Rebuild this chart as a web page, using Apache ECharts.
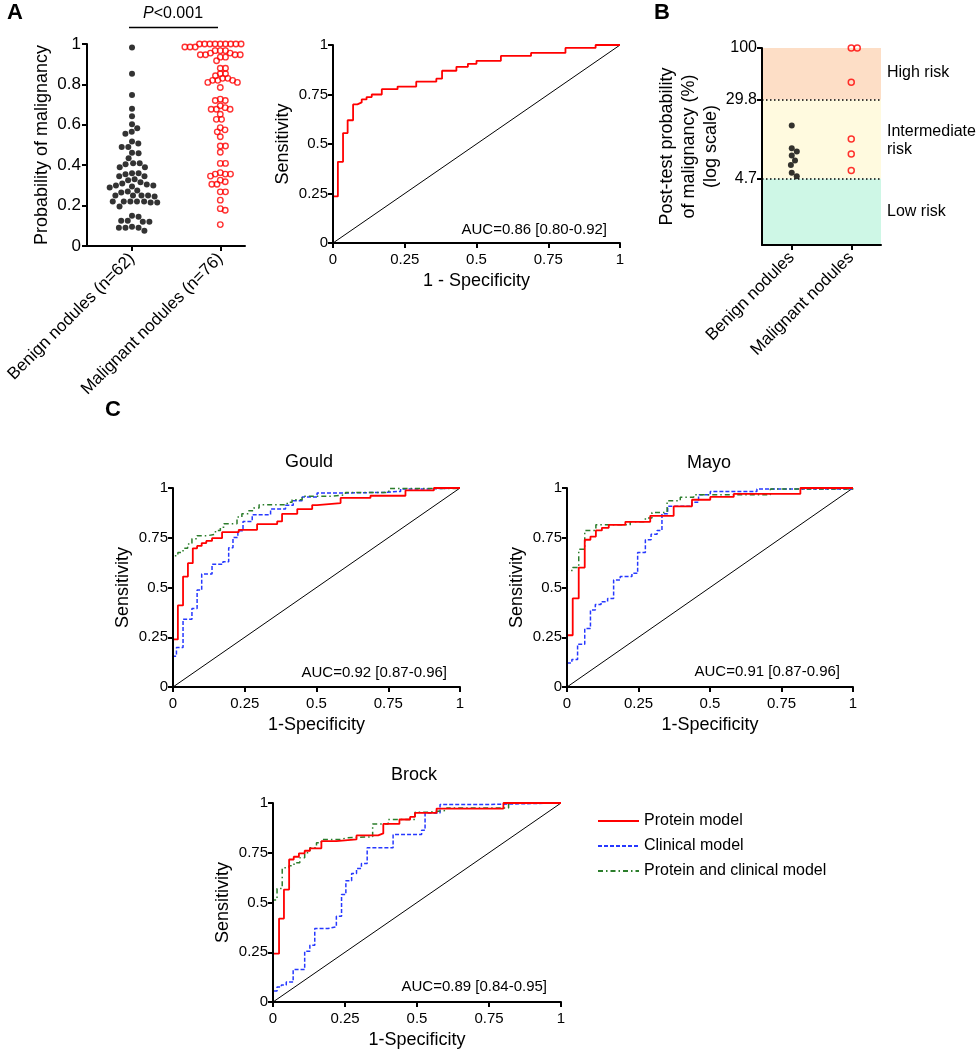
<!DOCTYPE html>
<html><head><meta charset="utf-8">
<script src="https://cdn.jsdelivr.net/npm/echarts@6/dist/echarts.min.js"></script>
<style>html,body{margin:0;padding:0;background:#fff}#c{width:978px;height:1050px}</style>
</head><body><div id="c"></div><script>
// ---------------- DATA ----------------
// Panel A: probability of malignancy (protein model)
const benignProb = [0.983,0.853,0.748,0.679,0.642,0.603,0.583,0.565,0.556,0.517,0.507,0.49,0.49,0.462,0.459,0.434,0.41,0.41,0.405,0.39,0.39,0.36,0.36,0.355,0.345,0.345,0.33,0.325,0.315,0.31,0.305,0.30,0.30,0.295,0.29,0.275,0.27,0.265,0.25,0.25,0.25,0.25,0.245,0.22,0.22,0.22,0.22,0.22,0.215,0.215,0.195,0.15,0.145,0.125,0.125,0.12,0.12,0.095,0.09,0.09,0.09,0.075];
const malignantProb = [1,1,1,1,1,1,1,1,1,1,0.985,0.985,0.985,0.985,0.985,0.967,0.967,0.967,0.955,0.955,0.947,0.947,0.947,0.947,0.935,0.935,0.917,0.88,0.88,0.853,0.853,0.843,0.83,0.83,0.82,0.82,0.82,0.81,0.81,0.785,0.727,0.72,0.72,0.694,0.685,0.677,0.677,0.677,0.652,0.627,0.627,0.586,0.575,0.565,0.541,0.495,0.495,0.464,0.409,0.409,0.363,0.356,0.356,0.356,0.346,0.326,0.318,0.306,0.306,0.268,0.268,0.227,0.185,0.177,0.106];
const groupNamesA = ['Benign nodules (n=62)', 'Malignant nodules (n=76)'];
const pValueText = '<0.001';

// Panel A ROC (protein model) : [1-specificity, sensitivity] step corners
const rocA_protein = [[0,0],[0,0.235],[0.017,0.41],[0.035,0.555],[0.051,0.62],[0.07,0.70],[0.085,0.71],[0.10,0.725],[0.117,0.737],[0.135,0.75],[0.17,0.777],[0.225,0.79],[0.29,0.815],[0.36,0.83],[0.38,0.87],[0.43,0.89],[0.47,0.905],[0.5,0.92],[0.585,0.945],[0.69,0.96],[0.81,0.985],[0.915,1],[1,1]];
const aucA = 'AUC=0.86 [0.80-0.92]';

// Panel B: post-test probability (%)
const postTestBenign = [16.3, 9.6, 8.9, 8.1, 7.2, 6.5, 5.4, 5.0];
const postTestMalignant = [100, 100, 44.9, 11.9, 8.4, 5.7];
const riskCutoffs = [4.7, 29.8];
const postTestTicks = [4.7, 29.8, 100];
const groupNamesB = ['Benign nodules', 'Malignant nodules'];

// Panel C ROC curves
const gould_protein = [[0,0],[0,0.239],[0.017,0.41],[0.035,0.555],[0.052,0.622],[0.069,0.697],[0.084,0.709],[0.10,0.723],[0.116,0.734],[0.136,0.748],[0.171,0.778],[0.229,0.79],[0.293,0.818],[0.363,0.832],[0.38,0.87],[0.433,0.894],[0.485,0.914],[0.502,0.924],[0.584,0.95],[0.688,0.961],[0.81,0.988],[0.909,1],[1,1]];
const gould_clinical = [[0,0],[0,0.155],[0.012,0.198],[0.035,0.341],[0.066,0.395],[0.084,0.487],[0.10,0.568],[0.136,0.617],[0.174,0.63],[0.194,0.70],[0.209,0.751],[0.226,0.785],[0.244,0.832],[0.276,0.866],[0.34,0.894],[0.392,0.913],[0.419,0.936],[0.45,0.955],[0.502,0.975],[0.607,0.978],[0.735,0.983],[0.793,0.995],[0.87,1],[1,1]];
const gould_combined = [[0,0],[0,0.659],[0.017,0.676],[0.035,0.697],[0.051,0.719],[0.066,0.745],[0.084,0.76],[0.119,0.768],[0.148,0.787],[0.165,0.803],[0.177,0.82],[0.223,0.854],[0.24,0.87],[0.264,0.886],[0.281,0.899],[0.30,0.916],[0.398,0.928],[0.415,0.941],[0.45,0.958],[0.549,0.966],[0.601,0.978],[0.752,0.997],[1,1]];
const mayo_protein = [[0,0],[0,0.26],[0.02,0.445],[0.041,0.60],[0.062,0.74],[0.082,0.756],[0.101,0.787],[0.122,0.80],[0.146,0.815],[0.204,0.83],[0.291,0.86],[0.373,0.908],[0.437,0.941],[0.501,0.955],[0.583,0.97],[0.816,1],[1,1]];
const mayo_clinical = [[0,0],[0,0.121],[0.017,0.138],[0.037,0.215],[0.062,0.294],[0.082,0.387],[0.099,0.415],[0.119,0.429],[0.142,0.445],[0.163,0.538],[0.186,0.555],[0.227,0.571],[0.247,0.676],[0.274,0.74],[0.294,0.768],[0.315,0.787],[0.332,0.87],[0.352,0.908],[0.437,0.928],[0.46,0.966],[0.501,0.983],[0.664,0.995],[1,1]];
const mayo_combined = [[0,0],[0,0.585],[0.02,0.60],[0.041,0.692],[0.062,0.787],[0.101,0.815],[0.221,0.83],[0.274,0.849],[0.297,0.877],[0.35,0.936],[0.396,0.953],[0.443,0.966],[0.711,0.995],[1,1]];
const brock_protein = [[0,0],[0,0.243],[0.021,0.419],[0.038,0.565],[0.056,0.716],[0.072,0.73],[0.09,0.747],[0.11,0.76],[0.128,0.772],[0.168,0.808],[0.22,0.817],[0.29,0.837],[0.365,0.847],[0.383,0.895],[0.439,0.917],[0.476,0.93],[0.493,0.95],[0.568,0.972],[0.80,1],[1,1]];
const brock_clinical = [[0,0],[0,0.055],[0.014,0.075],[0.029,0.086],[0.046,0.10],[0.07,0.163],[0.11,0.255],[0.128,0.285],[0.145,0.369],[0.191,0.378],[0.22,0.431],[0.238,0.54],[0.253,0.609],[0.273,0.646],[0.29,0.671],[0.307,0.696],[0.327,0.775],[0.417,0.842],[0.516,0.863],[0.528,0.95],[0.58,0.992],[0.725,1],[1,1]];
const brock_combined = [[0,0],[0,0.512],[0.014,0.57],[0.032,0.674],[0.056,0.685],[0.073,0.70],[0.093,0.725],[0.11,0.75],[0.128,0.775],[0.151,0.80],[0.168,0.817],[0.238,0.825],[0.255,0.83],[0.346,0.895],[0.40,0.917],[0.493,0.953],[0.534,0.963],[0.603,0.975],[0.818,1],[1,1]];
const aucC = ['AUC=0.92 [0.87-0.96]', 'AUC=0.91 [0.87-0.96]', 'AUC=0.89 [0.84-0.95]'];
const panelTitles = ['Gould', 'Mayo', 'Brock'];
const modelNames = ['Protein model', 'Clinical model', 'Protein and clinical model'];

// ---------------- HELPERS ----------------
const FONT = "'Liberation Sans', Arial, Helvetica, sans-serif";
const C_RED = '#ff0000', C_BLUE = '#2638ff', C_GREEN = '#2b7d2b';

function stepify(pts) {
  const out = [pts[0]];
  for (let i = 1; i < pts.length; i++) {
    out.push([pts[i][0], pts[i - 1][1]]);
    out.push(pts[i]);
  }
  return out;
}
// beeswarm offsets (in px) for values laid out in pixel space
function beeswarm(ysPx, d) {
  const order = ysPx.map((y, i) => i).sort((a, b) => ysPx[b] - ysPx[a]);
  const placed = [], xs = new Array(ysPx.length);
  for (const i of order) {
    const y = ysPx[i];
    const near = placed.filter(p => Math.abs(p.y - y) < d);
    const cands = [0];
    near.forEach(p => { const dx = Math.sqrt(d * d - (p.y - y) * (p.y - y)); cands.push(p.x + dx, p.x - dx); });
    cands.sort((a, b) => Math.abs(a) - Math.abs(b));
    let x = 0;
    for (const c of cands) {
      if (near.every(p => (p.x - c) * (p.x - c) + (p.y - y) * (p.y - y) >= d * d - 1e-6)) { x = c; break; }
    }
    xs[i] = x; placed.push({ x, y });
  }
  return xs;
}

const grids = [
  { left: 87, top: 44, width: 158, height: 202 },   // A dot plot
  { left: 333, top: 45, width: 287, height: 198 },  // A ROC
  { left: 762, top: 48, width: 119, height: 197 },  // B
  { left: 173, top: 488, width: 287, height: 199 }, // Gould
  { left: 567, top: 488, width: 286, height: 199 }, // Mayo
  { left: 273, top: 803, width: 288, height: 199 }  // Brock
];

const lineS = { color: '#000', width: 2 };
function mkAxis(o) {
  const base = {
    z: 10,
    axisLine: { show: true, onZero: false, lineStyle: lineS },
    splitLine: { show: false },
    nameLocation: 'middle',
    nameTextStyle: { color: '#000', fontFamily: FONT, fontSize: 18 }
  };
  const r = Object.assign(base, o);
  r.axisTick = Object.assign({ show: true, length: 5, lineStyle: lineS }, o.axisTick || {});
  r.axisLabel = Object.assign({ color: '#000', fontFamily: FONT, fontSize: 15 }, o.axisLabel || {});
  return r;
}

// dot plot jitter
const A_MIN = 0.49, A_MAX = 2.28;
const aPxX = grids[0].width / (A_MAX - A_MIN), aPxY = grids[0].height;
const benOff = beeswarm(benignProb.map(v => v * aPxY), 6.6);
const malOff = beeswarm(malignantProb.map(v => v * aPxY), 5.2);
// panel B jitter
const bPxX = grids[2].width / 2, bPxY = grids[2].height / 2;
const benBOff = beeswarm(postTestBenign.map(v => Math.log10(v) * bPxY), 6);
const malBOff = beeswarm(postTestMalignant.map(v => Math.log10(v) * bPxY), 6);

const xAxes = [], yAxes = [];
// A dot
xAxes.push(mkAxis({ type: 'value', gridIndex: 0, min: A_MIN, max: A_MAX,
  axisTick: { customValues: [1, 2] },
  axisLabel: { customValues: [1, 2], formatter: v => groupNamesA[Math.round(v) - 1], rotate: 45, fontSize: 17, margin: 10 } }));
yAxes.push(mkAxis({ type: 'value', gridIndex: 0, min: 0, max: 1, interval: 0.2,
  name: 'Probability of malignancy', nameGap: 36, axisLabel: { fontSize: 17, margin: 6 } }));
// ROC axes
function rocAxes(g, xName) {
  xAxes.push(mkAxis({ type: 'value', gridIndex: g, min: 0, max: 1, interval: 0.25, name: xName, nameGap: 29,
    axisLabel: { margin: 9 } }));
  yAxes.push(mkAxis({ type: 'value', gridIndex: g, min: 0, max: 1, interval: 0.25, name: 'Sensitivity', nameGap: 41,
    axisLabel: { margin: 5 } }));
}
rocAxes(1, '1 - Specificity');
// B
xAxes.push(mkAxis({ type: 'value', gridIndex: 2, min: 0.5, max: 2.5,
  axisTick: { customValues: [1, 2] },
  axisLabel: { customValues: [1, 2], formatter: v => groupNamesB[Math.round(v) - 1], rotate: 45, fontSize: 17, margin: 10 } }));
yAxes.push(mkAxis({ type: 'log', logBase: 10, gridIndex: 2, min: 1, max: 100,
  name: 'Post-test probability\nof malignancy (%)\n(log scale)', nameGap: 40,
  nameTextStyle: { color: '#000', fontFamily: FONT, fontSize: 18, lineHeight: 22 },
  axisTick: { customValues: postTestTicks },
  axisLabel: { customValues: postTestTicks, fontSize: 16, margin: 5, formatter: v => String(Math.round(v * 10) / 10) } }));
rocAxes(3, '1-Specificity');
rocAxes(4, '1-Specificity');
rocAxes(5, '1-Specificity');

const series = [];
series.push({ type: 'scatter', xAxisIndex: 0, yAxisIndex: 0, symbol: 'circle', symbolSize: 6,
  itemStyle: { color: '#000' }, data: benignProb.map((v, i) => [1 + benOff[i] / aPxX, v]) });
series.push({ type: 'scatter', xAxisIndex: 0, yAxisIndex: 0, symbol: 'circle', symbolSize: 5.5,
  itemStyle: { color: 'rgba(255,255,255,0)', borderColor: C_RED, borderWidth: 1.4 },
  data: malignantProb.map((v, i) => [2 + malOff[i] / aPxX, v]) });

function diag(g) {
  series.push({ type: 'line', xAxisIndex: g, yAxisIndex: g, data: [[0, 0], [1, 1]], symbol: 'none',
    lineStyle: { color: '#000', width: 1 }, silent: true, z: 1 });
}
function roc(g, name, pts, color, width, type, z) {
  series.push({ type: 'line', name, xAxisIndex: g, yAxisIndex: g, data: stepify(pts), symbol: 'none', showSymbol: false,
    lineStyle: { color, width, type }, itemStyle: { color }, clip: false, silent: true, z });
}
diag(1);
roc(1, modelNames[0], rocA_protein, C_RED, 1.8, 'solid', 4);

// B scatter with risk bands
series.push({ type: 'scatter', xAxisIndex: 2, yAxisIndex: 2, symbol: 'circle', symbolSize: 6,
  itemStyle: { color: '#000' }, z: 5,
  data: postTestBenign.map((v, i) => [1 + benBOff[i] / bPxX, v]),
  markArea: { silent: true, data: [
    [{ yAxis: riskCutoffs[1], itemStyle: { color: '#fddec6' } }, { yAxis: 100 }],
    [{ yAxis: riskCutoffs[0], itemStyle: { color: '#fffadf' } }, { yAxis: riskCutoffs[1] }],
    [{ yAxis: 1, itemStyle: { color: '#cef7e6' } }, { yAxis: riskCutoffs[0] }]
  ] },
  markLine: { silent: true, symbol: ['none', 'none'], label: { show: false },
    lineStyle: { color: '#000', width: 1.5, type: [1.5, 2.5] },
    data: riskCutoffs.map(v => ({ yAxis: v })) } });
series.push({ type: 'scatter', xAxisIndex: 2, yAxisIndex: 2, symbol: 'circle', symbolSize: 6, z: 5,
  itemStyle: { color: 'rgba(255,255,255,0)', borderColor: C_RED, borderWidth: 1.5 },
  data: postTestMalignant.map((v, i) => [2 + malBOff[i] / bPxX, v]) });

const cSets = [[gould_protein, gould_clinical, gould_combined], [mayo_protein, mayo_clinical, mayo_combined], [brock_protein, brock_clinical, brock_combined]];
cSets.forEach((set, k) => {
  const g = 3 + k;
  diag(g);
  roc(g, modelNames[1], set[1], C_BLUE, 1.5, [4, 2], 3);
  roc(g, modelNames[2], set[2], C_GREEN, 1.5, [5, 3, 1.5, 3], 3);
  roc(g, modelNames[0], set[0], C_RED, 1.8, 'solid', 4);
});

function T(x, y, text, size, align, extra) {
  return { type: 'text', x, y, silent: true, z: 100,
    style: Object.assign({ text, fontSize: size, fontFamily: FONT, fill: '#000', align: align || 'left', verticalAlign: 'middle' }, extra || {}) };
}
const graphic = [
  T(7, 13, 'A', 22, 'left', { fontWeight: 'bold' }),
  T(654, 13, 'B', 22, 'left', { fontWeight: 'bold' }),
  T(105, 410, 'C', 22, 'left', { fontWeight: 'bold' }),
  T(173, 14, '{i|P}' + pValueText, 16, 'center', { rich: { i: { fontStyle: 'italic', fontSize: 16, fontFamily: FONT } } }),
  { type: 'line', silent: true, shape: { x1: 129, y1: 27.5, x2: 218, y2: 27.5 }, style: { stroke: '#000', lineWidth: 1.5 } },
  T(607, 230, aucA, 15, 'right'),
  T(447, 672.5, aucC[0], 15, 'right'),
  T(840, 672, aucC[1], 15, 'right'),
  T(547, 987, aucC[2], 15, 'right'),
  T(309, 462, panelTitles[0], 18, 'center'),
  T(709, 463, panelTitles[1], 18, 'center'),
  T(414, 775, panelTitles[2], 18, 'center'),
  T(887, 73, 'High risk', 16),
  T(887, 132, 'Intermediate', 16),
  T(887, 150, 'risk', 16),
  T(887, 212, 'Low risk', 16)
];

const chart = echarts.init(document.getElementById('c'), null, { renderer: 'canvas' });
chart.setOption({
  animation: false,
  backgroundColor: '#fff',
  textStyle: { fontFamily: FONT },
  grid: grids,
  xAxis: xAxes,
  yAxis: yAxes,
  series,
  legend: { data: modelNames, orient: 'vertical', left: 592, top: 808, itemWidth: 41, itemHeight: 14, itemGap: 9,
    selectedMode: false, itemStyle: { opacity: 0 },
    textStyle: { fontSize: 16, fontFamily: FONT, color: '#000' } },
  graphic
});
</script></body></html>
